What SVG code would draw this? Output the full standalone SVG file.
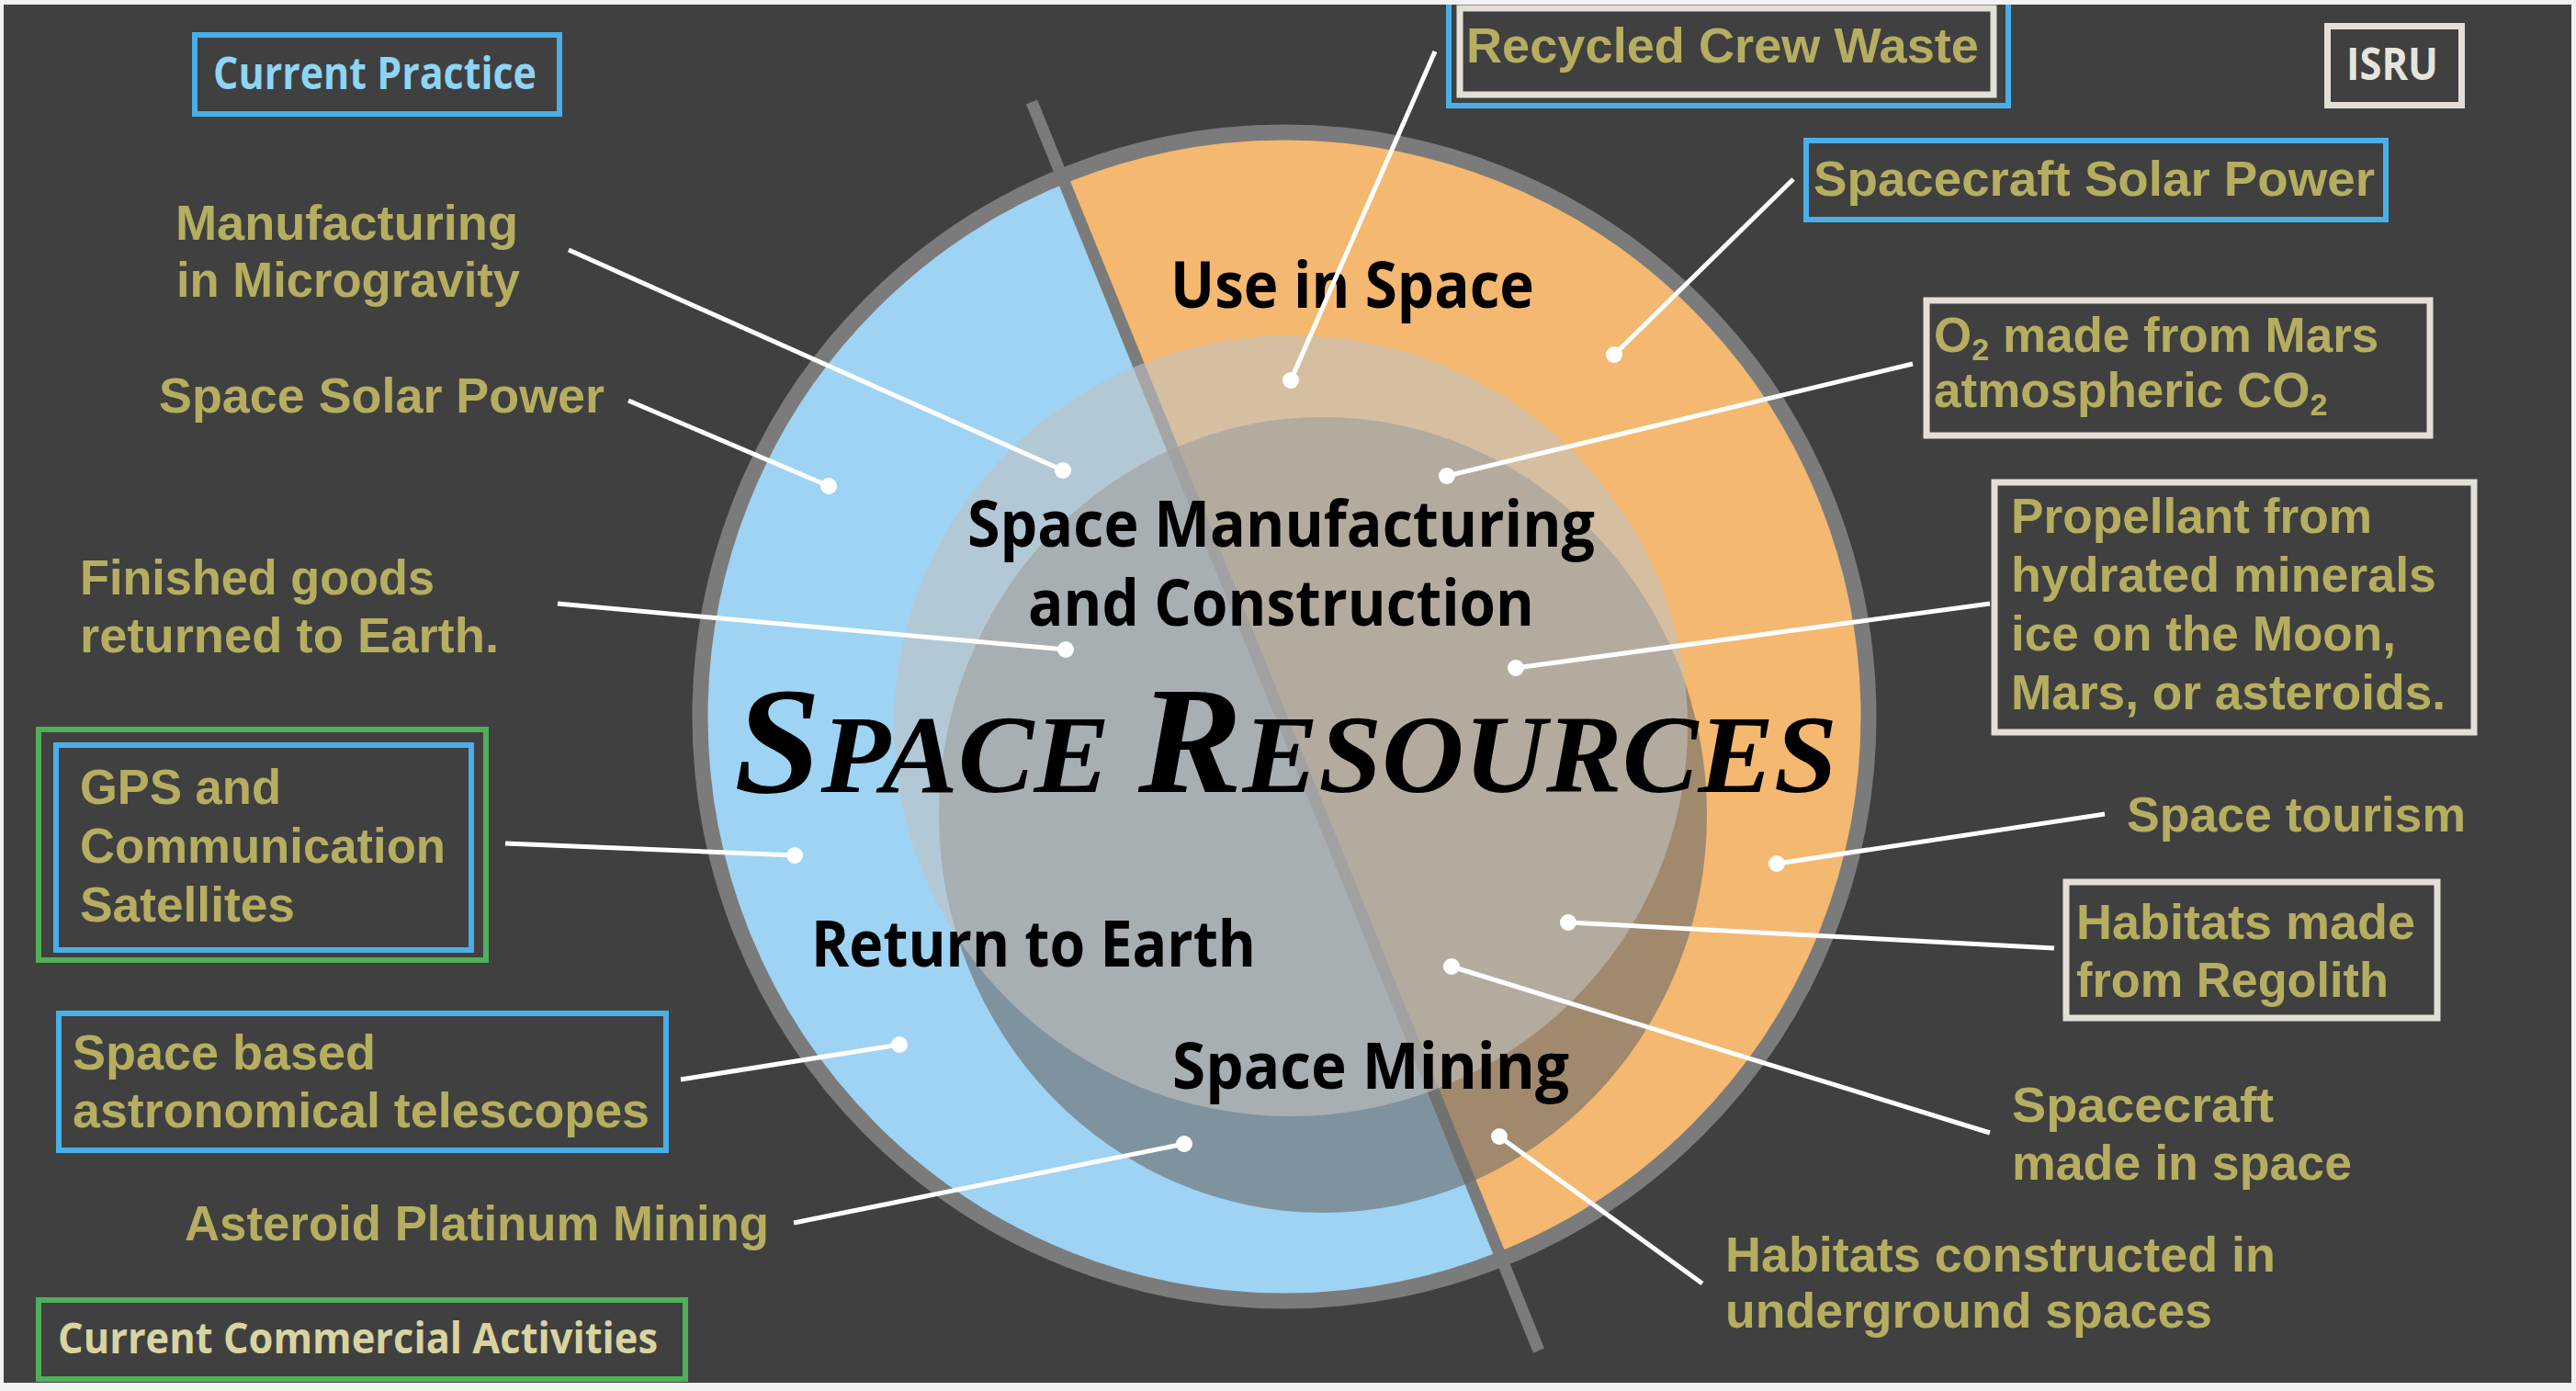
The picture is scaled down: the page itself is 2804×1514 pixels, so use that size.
<svg xmlns="http://www.w3.org/2000/svg" width="2804" height="1514" viewBox="0 0 2804 1514">
<defs>
<style>
.lbl{font-family:"Liberation Sans",Arial,sans-serif;font-weight:bold;font-size:53px;fill:#b5ae60}
.box{fill:none;stroke-width:6}
.blue{stroke:#4aaee8}
.green{stroke:#4fb058}
.cream{fill:none;stroke:#e3dfd6;stroke-width:7}
.ctr{font-family:"Open Sans","Noto Sans",sans-serif;font-weight:700;font-size:69px;fill:#000}
.tag{font-family:"Open Sans","Noto Sans",sans-serif;font-weight:700}
.con line{stroke:#fff;stroke-width:5}
.con circle{fill:#fff}
</style>
<clipPath id="disc"><circle cx="1398" cy="780" r="636"/></clipPath>
</defs>
<rect width="2804" height="1514" fill="#f2f2f2"/>
<rect x="4" y="5" width="2795" height="1500" fill="#404040"/>

<g id="wheel">
<g clip-path="url(#disc)">
<polygon points="0,0 1078,0 1693,1514 0,1514" fill="#9ed3f3"/>
<polygon points="1078,0 2804,0 2804,1514 1693,1514" fill="#f4b870"/>
</g>
<circle cx="1398" cy="780" r="636" fill="none" stroke="#7b7b7b" stroke-width="17"/>
<line x1="1123" y1="111" x2="1675" y2="1470" stroke="#7b7b7b" stroke-width="13"/>
<ellipse cx="1440" cy="887" rx="418" ry="433" fill="#6b6b6b" fill-opacity="0.615"/>
<ellipse cx="1405" cy="790" rx="432" ry="425" fill="#c1c1c1" fill-opacity="0.6"/>
</g>

<g id="circle-labels">
<text class="ctr" x="1274" y="335" textLength="396" lengthAdjust="spacingAndGlyphs">Use in Space</text>
<text class="ctr" x="1053" y="595" textLength="683" lengthAdjust="spacingAndGlyphs">Space Manufacturing</text>
<text class="ctr" x="1119" y="681" textLength="551" lengthAdjust="spacingAndGlyphs">and Construction</text>
<text class="ctr" x="883" y="1052" textLength="484" lengthAdjust="spacingAndGlyphs">Return to Earth</text>
<text class="ctr" x="1276" y="1185" textLength="432" lengthAdjust="spacingAndGlyphs">Space Mining</text>
<text x="799" y="862" font-family="'Liberation Serif','Times New Roman',serif" font-weight="bold" font-style="italic" fill="#000" textLength="1201" lengthAdjust="spacingAndGlyphs"><tspan font-size="166">S</tspan><tspan font-size="121">PACE </tspan><tspan font-size="166">R</tspan><tspan font-size="121">ESOURCES</tspan></text>
</g>

<g id="current-practice">
<rect class="box blue" x="212" y="38" width="397" height="86"/>
<text class="tag" x="232" y="97" font-size="48" fill="#8ed4f5" textLength="352" lengthAdjust="spacingAndGlyphs">Current Practice</text>
</g>
<g id="manufacturing-microgravity">
<text class="lbl" x="191" y="261" textLength="373" lengthAdjust="spacingAndGlyphs">Manufacturing</text>
<text class="lbl" x="192" y="323" textLength="374" lengthAdjust="spacingAndGlyphs">in Microgravity</text>
</g>
<g id="space-solar-power">
<text class="lbl" x="173" y="449" textLength="485" lengthAdjust="spacingAndGlyphs">Space Solar Power</text>
</g>
<g id="finished-goods">
<text class="lbl" x="87" y="647" textLength="386" lengthAdjust="spacingAndGlyphs">Finished goods</text>
<text class="lbl" x="87" y="710" textLength="456" lengthAdjust="spacingAndGlyphs">returned to Earth.</text>
</g>
<g id="gps-satellites">
<rect class="box green" x="42" y="794" width="487" height="251"/>
<rect class="box blue" x="61" y="811" width="452" height="223"/>
<text class="lbl" x="87" y="875" textLength="219" lengthAdjust="spacingAndGlyphs">GPS and</text>
<text class="lbl" x="87" y="939" textLength="398" lengthAdjust="spacingAndGlyphs">Communication</text>
<text class="lbl" x="87" y="1003" textLength="234" lengthAdjust="spacingAndGlyphs">Satellites</text>
</g>
<g id="telescopes">
<rect class="box blue" x="64" y="1103" width="661" height="149"/>
<text class="lbl" x="79" y="1164" textLength="330" lengthAdjust="spacingAndGlyphs">Space based</text>
<text class="lbl" x="79" y="1227" textLength="628" lengthAdjust="spacingAndGlyphs">astronomical telescopes</text>
</g>
<g id="platinum-mining">
<text class="lbl" x="201" y="1350" textLength="636" lengthAdjust="spacingAndGlyphs">Asteroid Platinum Mining</text>
</g>
<g id="commercial">
<rect class="box green" x="42" y="1415" width="704" height="86"/>
<text class="tag" x="63" y="1473" font-size="46" fill="#d8d4a0" textLength="653" lengthAdjust="spacingAndGlyphs">Current Commercial Activities</text>
</g>

<g id="recycled-waste">
<rect class="box blue" x="1577" y="0" width="609" height="115"/>
<rect class="cream" x="1589" y="9" width="581" height="94"/>
<text class="lbl" x="1596" y="68" textLength="558" lengthAdjust="spacingAndGlyphs">Recycled Crew Waste</text>
</g>
<g id="isru">
<rect class="cream" x="2533.5" y="28.5" width="146" height="86"/>
<text class="tag" x="2554" y="87" font-size="48" fill="#e6e4de" textLength="100" lengthAdjust="spacingAndGlyphs">ISRU</text>
</g>
<g id="spacecraft-solar">
<rect class="box blue" x="1966" y="153" width="631" height="86"/>
<text class="lbl" x="1974" y="213" textLength="611" lengthAdjust="spacingAndGlyphs">Spacecraft Solar Power</text>
</g>
<g id="o2-mars">
<rect class="cream" x="2097" y="327" width="548" height="147"/>
<text class="lbl" x="2105" y="383">O<tspan font-size="34" dy="9">2</tspan><tspan dy="-9"> made from Mars</tspan></text>
<text class="lbl" x="2105" y="443">atmospheric CO<tspan font-size="34" dy="9">2</tspan></text>
</g>
<g id="propellant">
<rect class="cream" x="2171" y="525" width="522" height="272"/>
<text class="lbl" x="2189" y="580" textLength="393" lengthAdjust="spacingAndGlyphs">Propellant from</text>
<text class="lbl" x="2189" y="644" textLength="463" lengthAdjust="spacingAndGlyphs">hydrated minerals</text>
<text class="lbl" x="2189" y="708" textLength="419" lengthAdjust="spacingAndGlyphs">ice on the Moon,</text>
<text class="lbl" x="2189" y="772" textLength="473" lengthAdjust="spacingAndGlyphs">Mars, or asteroids.</text>
</g>
<g id="tourism">
<text class="lbl" x="2315" y="905" textLength="369" lengthAdjust="spacingAndGlyphs">Space tourism</text>
</g>
<g id="habitats-regolith">
<rect class="cream" x="2249" y="960" width="404" height="148"/>
<text class="lbl" x="2260" y="1022" textLength="369" lengthAdjust="spacingAndGlyphs">Habitats made</text>
<text class="lbl" x="2260" y="1085" textLength="340" lengthAdjust="spacingAndGlyphs">from Regolith</text>
</g>
<g id="spacecraft-made">
<text class="lbl" x="2190" y="1221" textLength="285" lengthAdjust="spacingAndGlyphs">Spacecraft</text>
<text class="lbl" x="2190" y="1284" textLength="370" lengthAdjust="spacingAndGlyphs">made in space</text>
</g>
<g id="habitats-underground">
<text class="lbl" x="1878" y="1384" textLength="599" lengthAdjust="spacingAndGlyphs">Habitats constructed in</text>
<text class="lbl" x="1878" y="1445" textLength="530" lengthAdjust="spacingAndGlyphs">underground spaces</text>
</g>

<g id="connectors" class="con">
<line x1="619" y1="272" x2="1157" y2="512"/><circle cx="1157" cy="512" r="9"/>
<line x1="684" y1="436" x2="902" y2="529"/><circle cx="902" cy="529" r="9"/>
<line x1="607" y1="657" x2="1160" y2="707"/><circle cx="1160" cy="707" r="9"/>
<line x1="550" y1="918" x2="865" y2="931"/><circle cx="865" cy="931" r="9"/>
<line x1="741" y1="1175" x2="979" y2="1137"/><circle cx="979" cy="1137" r="9"/>
<line x1="864" y1="1331" x2="1289" y2="1245"/><circle cx="1289" cy="1245" r="9"/>
<line x1="1562" y1="56" x2="1405" y2="414"/><circle cx="1405" cy="414" r="9"/>
<line x1="1952" y1="195" x2="1757" y2="386"/><circle cx="1757" cy="386" r="9"/>
<line x1="2082" y1="396" x2="1575" y2="518"/><circle cx="1575" cy="518" r="9"/>
<line x1="2166" y1="657" x2="1650" y2="727"/><circle cx="1650" cy="727" r="9"/>
<line x1="2291" y1="886" x2="1934" y2="940"/><circle cx="1934" cy="940" r="9"/>
<line x1="2236" y1="1032" x2="1707" y2="1004"/><circle cx="1707" cy="1004" r="9"/>
<line x1="2166" y1="1233" x2="1580" y2="1052"/><circle cx="1580" cy="1052" r="9"/>
<line x1="1853" y1="1397" x2="1632" y2="1237"/><circle cx="1632" cy="1237" r="9"/>
</g>

<path d="M0 0H2804V1514H0Z M4 5V1505H2799V5Z" fill="#f2f2f2" fill-rule="evenodd"/>
</svg>
